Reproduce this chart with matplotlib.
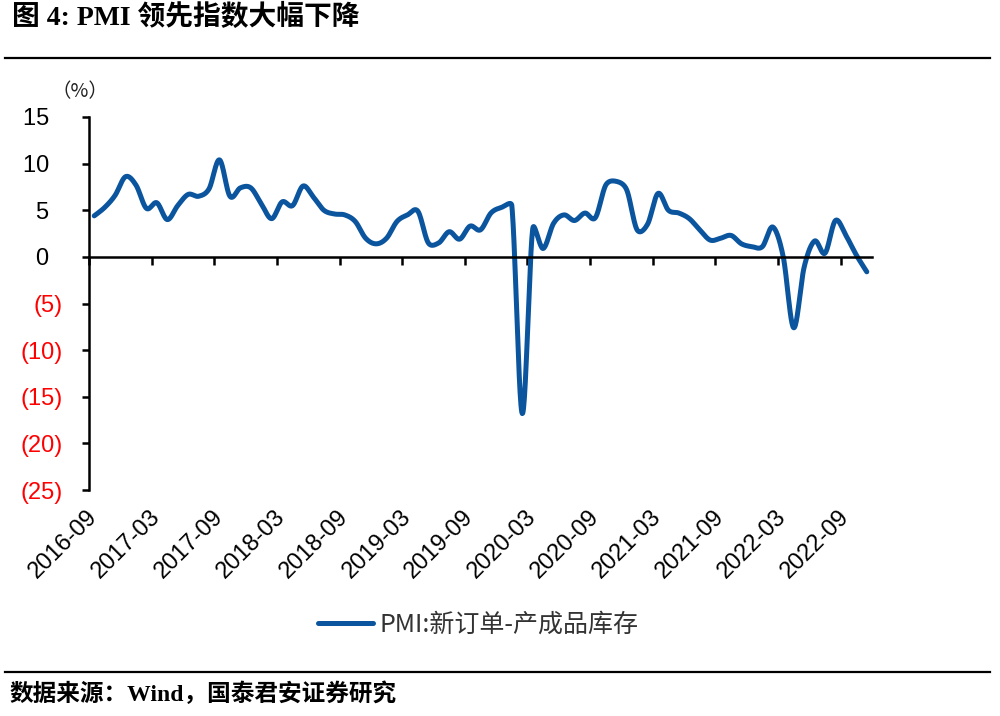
import matplotlib
matplotlib.use("Agg")
import matplotlib.pyplot as plt
from matplotlib.lines import Line2D
import numpy as np

# PMI new orders minus finished goods inventory, monthly 2016-09 .. 2022-11
months = [f"{y}-{m:02d}" for y in range(2016, 2023) for m in range(1, 13)]
months = months[months.index("2016-09"):months.index("2022-11") + 1]
values = [4.4, 5.3, 6.6, 8.6, 7.7, 5.2, 5.8, 4.0, 5.5, 6.7,
          6.5, 7.3, 10.4, 6.5, 7.4, 7.4, 5.7, 4.1, 5.9, 5.5,
          7.6, 6.4, 5.0, 4.6, 4.5, 3.8, 2.0, 1.4, 2.0, 3.8,
          4.5, 4.9, 1.5, 1.5, 2.7, 1.9, 3.3, 2.9, 4.7, 5.3,
          5.5, -16.8, 3.0, 0.9, 3.6, 4.5, 3.9, 4.7, 4.2, 7.7,
          8.1, 7.2, 2.9, 3.5, 6.8, 5.0, 4.7, 4.1, 2.9, 1.8,
          2.0, 2.3, 1.4, 1.1, 1.1, 3.2, 0.0, -7.6, -1.1, 1.7,
          0.4, 3.9, 2.3, 0.2, -1.6]
tick_labels = months[::6]
yticks = [15, 10, 5, 0, -5, -10, -15, -20, -25]

line_color = "#0B559E"
cjk = ["Noto Sans CJK SC", "DejaVu Sans"]
serif_cjk = ["Liberation Serif", "Noto Sans CJK SC"]


def smooth(x, y, n=24, kx=10.4, ky=9.3):
    # Excel-like smoothed line: Bezier with 1/6 tangents, clamped to half a segment
    P = np.column_stack([np.asarray(x, float) * kx, np.asarray(y, float) * ky])
    P = np.vstack([P[0], P, P[-1]])
    t = np.linspace(0, 1, n, endpoint=False)[:, None]
    out = []
    for i in range(1, len(P) - 2):
        p0, p1, p2, p3 = P[i - 1], P[i], P[i + 1], P[i + 2]
        seg = np.linalg.norm(p2 - p1)
        a = (p2 - p0) / 6
        b = (p3 - p1) / 6
        for v in (a, b):
            if np.linalg.norm(v) > seg / 2:
                v *= (seg / 2) / np.linalg.norm(v)
        c1, c2 = p1 + a, p2 - b
        pts = ((1 - t) ** 3) * p1 + 3 * ((1 - t) ** 2) * t * c1 + 3 * (1 - t) * t ** 2 * c2 + t ** 3 * p2
        out.append(pts)
    out.append(P[-2][None, :])
    out = np.vstack(out)
    return out[:, 0] / kx, out[:, 1] / ky


fig = plt.figure(figsize=(10, 7.16), dpi=100)
ax = fig.add_axes([0.089, 0.3156, 0.783, 0.521])

xc = np.arange(len(values)) + 0.5
sx, sy = smooth(xc, values)
ax.plot(sx, sy, color=line_color, lw=3.6, solid_capstyle="round",
        label="PMI:新订单-产成品库存")

ax.set_xlim(0, len(values))
ax.set_ylim(-25, 15)

for s in ["top", "right"]:
    ax.spines[s].set_visible(False)
ax.spines["left"].set_linewidth(1.8)
ax.spines["bottom"].set_position(("data", 0))
ax.spines["bottom"].set_linewidth(1.8)

ax.set_xticks(np.arange(0, len(values), 6))
ax.tick_params(axis="x", direction="out", length=6, width=1.8, labelbottom=False)

ax.set_yticks(yticks)
ylabs = [f"{v}  " if v >= 0 else f"({-v})" for v in yticks]
ax.set_yticklabels(ylabs, family="Liberation Sans", fontsize=17)
for lab, v in zip(ax.get_yticklabels(), yticks):
    lab.set_color("red" if v < 0 else "black")
ax.tick_params(axis="y", direction="out", length=5, width=1.8, pad=14)

sec = ax.secondary_xaxis("bottom")
sec.spines["bottom"].set_visible(False)
sec.set_xticks(xc[::6])
sec.set_xticklabels(tick_labels, family="Liberation Sans", fontsize=17)
sec.tick_params(length=0, pad=17)
for lab in sec.get_xticklabels():
    lab.set_rotation(45)
    lab.set_ha("right")
    lab.set_va("center")
    lab.set_rotation_mode("anchor")

fig.text(0.080, 1 - 92 / 716, "（%）", family=cjk, fontsize=14, ha="center", va="center",
         color="#222222")

fig.legend(loc="center", bbox_to_anchor=(0.478, 1 - 625 / 716), frameon=False,
           handlelength=2.2, handletextpad=0.25, prop={"family": cjk, "size": 18},
           labelcolor="#333333")

fig.text(0.012, 1 - 17 / 716, "图 4: PMI 领先指数大幅下降", family=serif_cjk, fontsize=20,
         weight="bold", ha="left", va="center")
fig.add_artist(Line2D([0.005, 0.99], [1 - 58 / 716] * 2, color="black", lw=1.6))
fig.add_artist(Line2D([0.005, 0.99], [1 - 672 / 716] * 2, color="black", lw=1.6))
fig.text(0.010, 1 - 694 / 716, "数据来源：Wind，国泰君安证券研究", family=serif_cjk,
         fontsize=17, weight="bold", ha="left", va="center")

fig.savefig("out.png", dpi=100, facecolor="white")
